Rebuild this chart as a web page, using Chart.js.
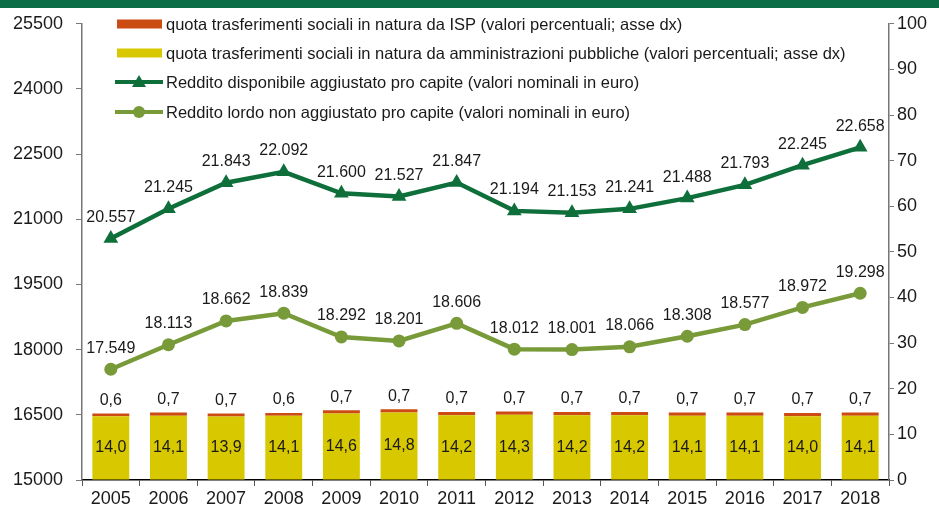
<!DOCTYPE html>
<html>
<head>
<meta charset="utf-8">
<script src="https://cdn.jsdelivr.net/npm/chart.js@4"></script>
<style>
  html, body { margin: 0; padding: 0; background: #fff; }
  #wrap { width: 939px; height: 511px; }
</style>
</head>
<body>
<div id="wrap"><canvas id="redditoChart" width="939" height="511"></canvas></div>
<script>
// anni e serie
const anni = ['2005', '2006', '2007', '2008', '2009', '2010', '2011', '2012', '2013', '2014', '2015', '2016', '2017', '2018'];
const quotaISP = [0.6, 0.7, 0.7, 0.6, 0.7, 0.7, 0.7, 0.7, 0.7, 0.7, 0.7, 0.7, 0.7, 0.7];
const quotaPA = [14.0, 14.1, 13.9, 14.1, 14.6, 14.8, 14.2, 14.3, 14.2, 14.2, 14.1, 14.1, 14.0, 14.1];
const redditoAggiustato = [20557, 21245, 21843, 22092, 21600, 21527, 21847, 21194, 21153, 21241, 21488, 21793, 22245, 22658];
const redditoLordo = [17549, 18113, 18662, 18839, 18292, 18201, 18606, 18012, 18001, 18066, 18308, 18577, 18972, 19298];
const tickSx = [15000, 16500, 18000, 19500, 21000, 22500, 24000, 25500];
const tickDx = [0, 10, 20, 30, 40, 50, 60, 70, 80, 90, 100];

const VERDE_SCURO = '#0e6f3a';
const VERDE_CHIARO = '#789a38';
const GIALLO = '#d8c800';
const ARANCIO = '#cc4b12';
const FONT = '"Liberation Sans", Arial, sans-serif';

// formato italiano
const fmtMigliaia = v => String(v).replace(/\B(?=(\d{3})+(?!\d))/g, '.');
const fmtDecimale = v => v.toFixed(1).replace('.', ',');

const etichette = {
    id: 'etichette',
    beforeDraw(chart) {
        const c = chart.ctx;
        c.save();
        c.fillStyle = '#0b6d45';
        c.fillRect(0, 0, chart.width, 8);
        c.restore();
    },
    afterDatasetsDraw(chart) {
        const c = chart.ctx;
        c.save();
        c.fillStyle = '#1a1a1a';
        c.textAlign = 'center';
        c.textBaseline = 'middle';
        c.font = '16px ' + FONT;
        chart.data.datasets.forEach((ds, i) => {
            const meta = chart.getDatasetMeta(i);
            meta.data.forEach((el, j) => {
                const v = ds.data[j];
                if (ds.type === 'line') {
                    c.fillText(fmtMigliaia(v), el.x, el.y - 21);
                } else if (ds.key === 'pa') {
                    c.fillText(fmtDecimale(v), el.x, (el.y + el.base) / 2);
                } else {
                    c.fillText(fmtDecimale(v), el.x, el.y - 13);
                }
            });
        });
        c.restore();
    },
    afterDraw(chart) {
        // legenda disegnata a mano dentro l'area del grafico
        const c = chart.ctx;
        const voci = [
            { testo: 'quota trasferimenti sociali in natura da ISP (valori percentuali; asse dx)', tipo: 'bar', colore: ARANCIO },
            { testo: 'quota trasferimenti sociali in natura da amministrazioni pubbliche (valori percentuali; asse dx)', tipo: 'bar', colore: GIALLO },
            { testo: 'Reddito disponibile aggiustato pro capite (valori nominali in euro)', tipo: 'triangle', colore: VERDE_SCURO },
            { testo: 'Reddito lordo non aggiustato pro capite (valori nominali in euro)', tipo: 'circle', colore: VERDE_CHIARO }
        ];
        const ys = [24, 53, 82, 112];
        c.save();
        c.font = '16.5px ' + FONT;
        c.textBaseline = 'middle';
        c.textAlign = 'left';
        voci.forEach((v, i) => {
            const y = ys[i];
            c.fillStyle = v.colore;
            c.strokeStyle = v.colore;
            if (v.tipo === 'bar') {
                c.fillRect(117, y - 4.5, 45, 9);
            } else {
                c.lineWidth = 4;
                c.beginPath();
                c.moveTo(115, y);
                c.lineTo(163, y);
                c.stroke();
                c.beginPath();
                if (v.tipo === 'triangle') {
                    c.moveTo(139, y - 7);
                    c.lineTo(146, y + 5);
                    c.lineTo(132, y + 5);
                    c.closePath();
                } else {
                    c.arc(139, y, 6, 0, Math.PI * 2);
                }
                c.fill();
            }
            c.fillStyle = '#1a1a1a';
            c.fillText(v.testo, 166, y + 1);
        });
        c.restore();
    }
};

const ctx = document.getElementById('redditoChart');

new Chart(ctx, {
    data: {
        labels: anni,
        datasets: [
            {
                type: 'line',
                label: 'Reddito disponibile aggiustato pro capite (valori nominali in euro)',
                data: redditoAggiustato,
                yAxisID: 'y',
                borderColor: VERDE_SCURO,
                backgroundColor: VERDE_SCURO,
                borderWidth: 4.5,
                pointStyle: 'triangle',
                pointRadius: 8.5,
                pointBorderWidth: 0,
                tension: 0,
                order: 0
            },
            {
                type: 'line',
                label: 'Reddito lordo non aggiustato pro capite (valori nominali in euro)',
                data: redditoLordo,
                yAxisID: 'y',
                borderColor: VERDE_CHIARO,
                backgroundColor: VERDE_CHIARO,
                borderWidth: 4.5,
                pointStyle: 'circle',
                pointRadius: 6.5,
                pointBorderWidth: 0,
                tension: 0,
                order: 0
            },
            {
                type: 'bar',
                key: 'pa',
                label: 'quota trasferimenti sociali in natura da amministrazioni pubbliche (valori percentuali; asse dx)',
                data: quotaPA,
                yAxisID: 'y1',
                backgroundColor: GIALLO,
                barPercentage: 0.64,
                categoryPercentage: 1,
                order: 1
            },
            {
                type: 'bar',
                key: 'isp',
                label: 'quota trasferimenti sociali in natura da ISP (valori percentuali; asse dx)',
                data: quotaISP,
                yAxisID: 'y1',
                backgroundColor: ARANCIO,
                barPercentage: 0.64,
                categoryPercentage: 1,
                order: 1
            }
        ]
    },
    options: {
        responsive: false,
        animation: false,
        layout: { padding: { top: 23, left: 0, right: 0, bottom: 0 } },
        plugins: {
            legend: { display: false },
            tooltip: { enabled: false }
        },
        scales: {
            x: {
                stacked: true,
                border: { display: true, color: '#000', width: 1.5 },
                grid: { display: true, drawOnChartArea: false, drawTicks: true, tickLength: 6, color: '#555', offset: true },
                ticks: { color: '#1a1a1a', font: { family: FONT, size: 18 }, padding: 2 },
                afterFit: s => { s.height = 31; }
            },
            y: {
                position: 'left',
                min: 15000,
                max: 25500,
                afterBuildTicks: s => { s.ticks = tickSx.map(v => ({ value: v })); },
                border: { display: true, color: '#777', width: 1.5 },
                grid: { display: true, drawOnChartArea: false, drawTicks: true, tickLength: 6, color: '#777' },
                ticks: { color: '#1a1a1a', font: { family: FONT, size: 18 }, padding: 13, callback: v => String(v) },
                afterFit: s => { s.width = 82; }
            },
            y1: {
                position: 'right',
                stacked: true,
                min: 0,
                max: 100,
                afterBuildTicks: s => { s.ticks = tickDx.map(v => ({ value: v })); },
                border: { display: true, color: '#777', width: 1.5 },
                grid: { display: true, drawOnChartArea: false, drawTicks: true, tickLength: 5, color: '#777' },
                ticks: { color: '#1a1a1a', font: { family: FONT, size: 18 }, padding: 3 },
                afterFit: s => { s.width = 50; }
            }
        }
    },
    plugins: [etichette]
});
</script>
</body>
</html>
